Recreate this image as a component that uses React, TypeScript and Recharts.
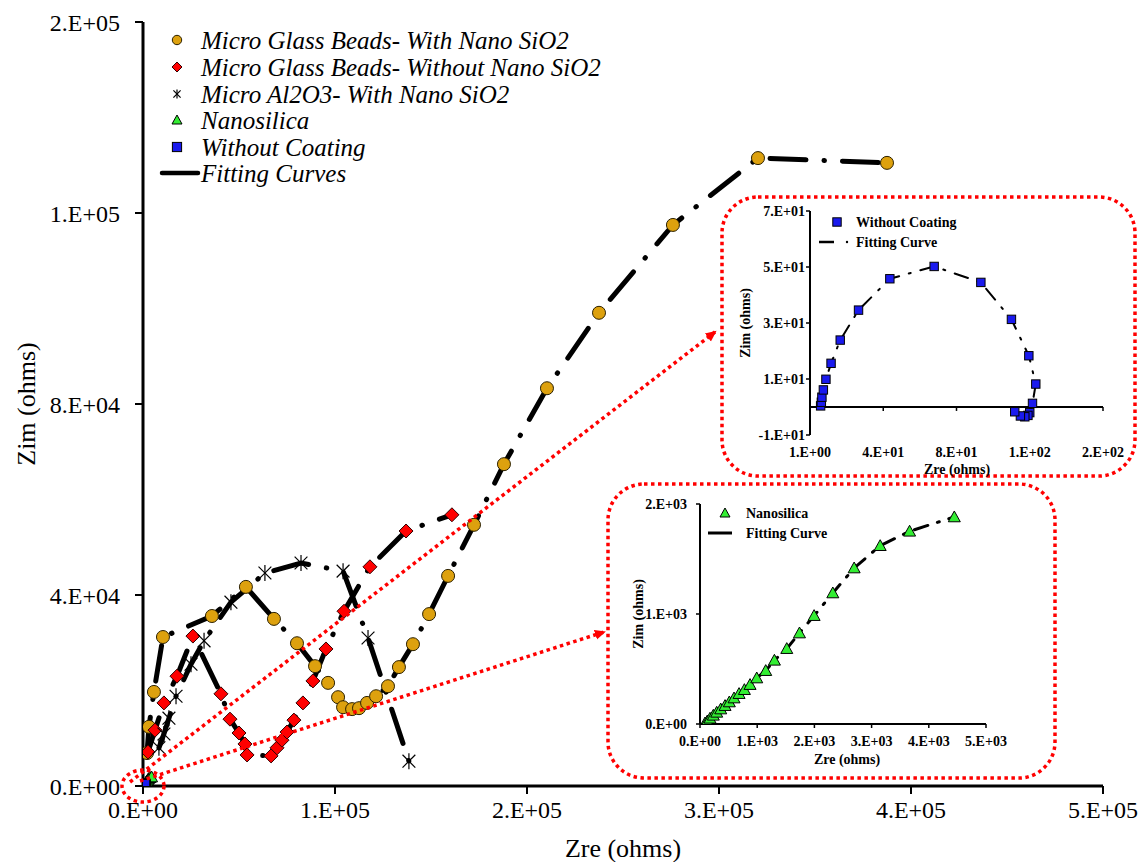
import React from 'react';
import { ScatterChart, Scatter, XAxis, YAxis, ReferenceLine, Label } from 'recharts';

const SERIF = '"Liberation Serif", "Times New Roman", Times, serif';

// main Nyquist plot, ohms
const beadsNanoZre = [2100, 3100, 5700, 10400, 35900, 53600, 68200, 80200, 89600, 96400, 101600, 104200, 108900, 112500, 116700, 121400, 127600, 133300, 140600, 149000, 158900, 172400, 188000, 210400, 237500, 276000, 320300, 387500];
const beadsNanoZim = [6900, 12400, 19700, 31200, 35600, 41700, 35000, 29900, 25100, 21600, 18600, 16500, 16100, 16300, 17400, 18800, 20900, 24900, 29700, 36000, 44000, 54700, 67400, 83300, 99100, 117500, 131500, 130500];

const beadsZre = [2600, 6250, 10900, 17700, 26000, 40600, 45300, 50000, 53100, 54200, 66700, 69800, 72400, 75000, 78600, 83300, 88500, 95300, 104700, 118200, 137000, 160900];
const beadsZim = [7100, 11700, 17400, 23000, 31400, 19300, 14000, 11100, 8800, 6500, 6300, 8000, 9600, 11300, 13800, 17400, 22000, 28700, 36600, 45900, 53400, 56800];

const aluminaZre = [8300, 10900, 13500, 17200, 25000, 31800, 45800, 63500, 82300, 104200, 117200, 138500];
const aluminaZim = [8000, 10900, 14200, 18800, 25500, 30400, 38500, 44600, 46700, 45000, 31000, 5200];

// nanosilica (also the lower inset)
const nanoZre = [88, 128, 175, 233, 292, 362, 438, 513, 595, 683, 776, 875, 992, 1149, 1301, 1517, 1739, 1995, 2322, 2695, 3150, 3664, 4446];
const nanoZim = [9, 27, 52, 79, 106, 136, 167, 200, 236, 276, 312, 358, 418, 485, 579, 685, 827, 985, 1191, 1418, 1621, 1752, 1882];

// without coating (also the upper inset)
const bareZre = [6.8, 7.2, 7.5, 8.3, 9.7, 12.5, 17.5, 27.5, 44.6, 68.8, 94.3, 111, 120.5, 124.3, 122.5, 121, 120, 118.3, 115.9, 112.8];
const bareZim = [0.4, 1.7, 3.5, 6.1, 9.9, 15.6, 23.9, 34.6, 45.8, 50.2, 44.5, 31.3, 18.3, 8.2, 1.3, -2, -3, -3.5, -3.2, -1.7];

const mainXTicks = [0, 100000, 200000, 300000, 400000, 500000];
const mainYTicks = [0, 40000, 80000, 120000, 160000];
const bareXTicks = [1, 41, 81, 121, 161];
const bareYTicks = [-10, 10, 30, 50, 70];
const nanoXTicks = [0, 1000, 2000, 3000, 4000, 5000];
const nanoYTicks = [0, 1000, 2000];

const legendNames = [
  'Micro Glass Beads- With Nano SiO2',
  'Micro Glass Beads- Without Nano SiO2',
  'Micro Al2O3- With Nano SiO2',
  'Nanosilica',
  'Without Coating',
  'Fitting Curves',
];

const pts = (xs: number[], ys: number[]) => xs.map((x, i) => ({ x, y: ys[i] }));

// excel style "0.E+00"
const sci = (v: number) => {
  if (v === 0) return '0.E+00';
  const sign = v < 0 ? '-' : '';
  const a = Math.abs(v);
  let e = Math.floor(Math.log10(a));
  let m = Math.round(a / Math.pow(10, e));
  if (m >= 10) { m = 1; e += 1; }
  return `${sign}${m}.E${e >= 0 ? '+' : '-'}${String(Math.abs(e)).padStart(2, '0')}`;
};

const GOLD = '#DDA10E';
const RED = '#FF0000';
const GREEN = '#33EE33';
const BLUE = '#1A1AEE';

const noDot = () => <g />;

const gold = (r: number) => (p: any) => <circle cx={p.cx} cy={p.cy} r={r} fill={GOLD} stroke="#2b2000" strokeWidth={1} />;
const diamond = (s: number) => (p: any) => (
  <polygon points={`${p.cx},${p.cy - s} ${p.cx + s},${p.cy} ${p.cx},${p.cy + s} ${p.cx - s},${p.cy}`} fill={RED} stroke="#300" strokeWidth={1} />
);
const star = (s: number) => (p: any) => {
  const d = s * 0.8;
  return (
    <g stroke="#000" strokeWidth={1.2}>
      <line x1={p.cx} y1={p.cy - s} x2={p.cx} y2={p.cy + s} />
      <line x1={p.cx - d} y1={p.cy - d} x2={p.cx + d} y2={p.cy + d} />
      <line x1={p.cx - d} y1={p.cy + d} x2={p.cx + d} y2={p.cy - d} />
    </g>
  );
};
const tri = (s: number) => (p: any) => (
  <polygon points={`${p.cx},${p.cy - s} ${p.cx + s},${p.cy + s * 0.8} ${p.cx - s},${p.cy + s * 0.8}`} fill={GREEN} stroke="#000" strokeWidth={1} />
);
const square = (s: number) => (p: any) => (
  <rect x={p.cx - s} y={p.cy - s} width={s * 2} height={s * 2} fill={BLUE} stroke="#000" strokeWidth={1} />
);

const mainFit = { stroke: '#000', strokeWidth: 5, strokeDasharray: '36 18 0.5 18', strokeLinecap: 'round' as const };
const bareFit = { stroke: '#000', strokeWidth: 2, strokeDasharray: '14 10 2 10', strokeLinecap: 'round' as const };
const nanoFit = { stroke: '#000', strokeWidth: 3, strokeDasharray: '14 10 2 10', strokeLinecap: 'round' as const };

const mainTick = { fill: '#000', fontSize: 24, fontFamily: SERIF };
const insetTick = { fill: '#000', fontSize: 14, fontWeight: 'bold' as const, fontFamily: SERIF };

const beadsNano = pts(beadsNanoZre, beadsNanoZim);
const beads = pts(beadsZre, beadsZim);
const alumina = pts(aluminaZre, aluminaZim);
const nano = pts(nanoZre, nanoZim);
const bare = pts(bareZre, bareZim);

const MainChart = () => (
  <ScatterChart width={1143} height={862} margin={{ top: 22, right: 40, bottom: 0, left: 0 }}>
    <XAxis type="number" dataKey="x" domain={[0, 500000]} ticks={mainXTicks} tickFormatter={sci} height={76}
      axisLine={{ stroke: '#000', strokeWidth: 3 }} tickLine={{ stroke: '#000', strokeWidth: 2 }} tickSize={8} tickMargin={7} tick={mainTick} allowDataOverflow>
      <Label content={() => <text x={623} y={857} textAnchor="middle" fontSize={26} fontFamily={SERIF} fill="#000">Zre (ohms)</text>} />
    </XAxis>
    <YAxis type="number" dataKey="y" domain={[0, 160000]} ticks={mainYTicks} tickFormatter={sci} width={143}
      axisLine={{ stroke: '#000', strokeWidth: 3 }} tickLine={{ stroke: '#000', strokeWidth: 2 }} tickSize={8} tickMargin={15} tick={mainTick} allowDataOverflow>
      <Label content={() => <text x={35} y={404} transform="rotate(-90 35 404)" textAnchor="middle" fontSize={26} fontFamily={SERIF} fill="#000">Zim (ohms)</text>} />
    </YAxis>
    <Scatter data={beadsNano} line={mainFit} lineType="joint" shape={noDot} isAnimationActive={false} />
    <Scatter data={beads} line={mainFit} lineType="joint" shape={noDot} isAnimationActive={false} />
    <Scatter data={alumina} line={mainFit} lineType="joint" shape={noDot} isAnimationActive={false} />
    <Scatter data={nano} line={mainFit} lineType="joint" shape={noDot} isAnimationActive={false} />
    <Scatter data={beadsNano} shape={gold(6.5)} isAnimationActive={false} />
    <Scatter data={beads} shape={diamond(7)} isAnimationActive={false} />
    <Scatter data={alumina} shape={star(8)} isAnimationActive={false} />
    <Scatter data={nano} shape={tri(6)} isAnimationActive={false} />
    <Scatter data={bare} shape={square(6.5)} isAnimationActive={false} />
  </ScatterChart>
);

const BareInset = () => (
  <ScatterChart width={400} height={285} margin={{ top: 11, right: 22, bottom: 0, left: 0 }}>
    <XAxis type="number" dataKey="x" domain={[1, 161]} ticks={bareXTicks} tickFormatter={sci} height={50}
      axisLine={false} tickLine={false} tickMargin={6} tick={insetTick} allowDataOverflow>
      <Label content={() => <text x={232} y={274} textAnchor="middle" fontSize={14} fontWeight="bold" fontFamily={SERIF} fill="#000">Zre (ohms)</text>} />
    </XAxis>
    <YAxis type="number" dataKey="y" domain={[-10, 70]} ticks={bareYTicks} tickFormatter={sci} width={85}
      axisLine={{ stroke: '#000', strokeWidth: 2 }} tickLine={{ stroke: '#000', strokeWidth: 1.5 }} tickSize={4} tickMargin={1} tick={insetTick} allowDataOverflow>
      <Label content={() => <text x={25} y={123} transform="rotate(-90 25 123)" textAnchor="middle" fontSize={14} fontWeight="bold" fontFamily={SERIF} fill="#000">Zim (ohms)</text>} />
    </YAxis>
    <ReferenceLine y={0} stroke="#000" strokeWidth={2} />
    {bareXTicks.slice(1).map((t) => (
      <ReferenceLine key={t} segment={[{ x: t, y: 0 }, { x: t, y: -1.4 }]} stroke="#000" strokeWidth={1.5} />
    ))}
    <Scatter data={bare} line={bareFit} lineType="joint" shape={noDot} isAnimationActive={false} />
    <Scatter data={bare} shape={square(4.2)} isAnimationActive={false} />
  </ScatterChart>
);

const NanoInset = () => (
  <ScatterChart width={400} height={285} margin={{ top: 14, right: 24, bottom: 0, left: 0 }}>
    <XAxis type="number" dataKey="x" domain={[0, 5000]} ticks={nanoXTicks} tickFormatter={sci} height={51}
      axisLine={{ stroke: '#000', strokeWidth: 2 }} tickLine={{ stroke: '#000', strokeWidth: 1.5 }} tickSize={4} tickMargin={8} tick={insetTick} allowDataOverflow>
      <Label content={() => <text x={237} y={274} textAnchor="middle" fontSize={14} fontWeight="bold" fontFamily={SERIF} fill="#000">Zre (ohms)</text>} />
    </XAxis>
    <YAxis type="number" dataKey="y" domain={[0, 2000]} ticks={nanoYTicks} tickFormatter={sci} width={90}
      axisLine={{ stroke: '#000', strokeWidth: 2 }} tickLine={{ stroke: '#000', strokeWidth: 1.5 }} tickSize={4} tickMargin={9} tick={insetTick} allowDataOverflow>
      <Label content={() => <text x={33} y={124} transform="rotate(-90 33 124)" textAnchor="middle" fontSize={14} fontWeight="bold" fontFamily={SERIF} fill="#000">Zim (ohms)</text>} />
    </YAxis>
    <Scatter data={nano} line={nanoFit} lineType="joint" shape={noDot} isAnimationActive={false} />
    <Scatter data={nano} shape={tri(6)} isAnimationActive={false} />
  </ScatterChart>
);

const dotted = { stroke: RED, strokeWidth: 3.5, strokeDasharray: '3.5 3.5', fill: 'none' };
const legendRows = [40, 67, 94, 120, 147, 173];

const Decor = () => (
  <svg width={1143} height={862} style={{ position: 'absolute', left: 0, top: 0, pointerEvents: 'none' }}>
    <defs>
      <marker id="redHead" markerWidth={12} markerHeight={12} refX={9} refY={6} orient="auto" markerUnits="userSpaceOnUse">
        <path d="M0,1 L11,6 L0,11 z" fill={RED} />
      </marker>
    </defs>
    {/* inset frames */}
    <rect x={722} y={197} width={413} height={279} rx={36} ry={36} {...dotted} style={{ fill: '#fff' }} />
    <rect x={608} y={484} width={447} height={294} rx={36} ry={36} {...dotted} style={{ fill: '#fff' }} />
    {/* zoom markers */}
    <ellipse cx={143} cy={786} rx={21} ry={16} {...dotted} />
    <line x1={130} y1={782} x2={715} y2={332} {...dotted} markerEnd="url(#redHead)" />
    <line x1={140} y1={781} x2={604} y2={632} {...dotted} markerEnd="url(#redHead)" />

    {/* main legend */}
    <g fontFamily={SERIF} fontStyle="italic" fontSize={25} fill="#000">
      {legendNames.map((n, i) => (
        <text key={n} x={201} y={legendRows[i] + 8.5}>{n}</text>
      ))}
    </g>
    {gold(4.7)({ cx: 177, cy: legendRows[0] })}
    {diamond(5)({ cx: 177, cy: legendRows[1] })}
    {star(4.5)({ cx: 177, cy: legendRows[2] })}
    {tri(5)({ cx: 177, cy: legendRows[3] })}
    {square(4.6)({ cx: 177, cy: legendRows[4] })}
    <line x1={162} y1={legendRows[5]} x2={198} y2={legendRows[5]} stroke="#000" strokeWidth={4.5} strokeLinecap="round" />

    {/* inset legends */}
    <g fontFamily={SERIF} fontWeight="bold" fontSize={14} fill="#000">
      <text x={856} y={227}>{legendNames[4]}</text>
      <text x={856} y={247}>Fitting Curve</text>
      <text x={746} y={518}>{legendNames[3]}</text>
      <text x={746} y={538}>Fitting Curve</text>
    </g>
    {square(4.2)({ cx: 837, cy: 222 })}
    <line x1={819} y1={242} x2={834} y2={242} stroke="#000" strokeWidth={2.5} />
    <circle cx={847} cy={242} r={1.2} fill="#000" />
    {tri(5)({ cx: 725, cy: 513 })}
    <line x1={708} y1={533} x2={732} y2={533} stroke="#000" strokeWidth={3} />
  </svg>
);

export default function App() {
  return (
    <div style={{ position: 'absolute', left: 0, top: 0, width: 1143, height: 862, background: '#fff', fontFamily: SERIF }}>
      <div style={{ position: 'absolute', left: 0, top: 0 }}>
        <MainChart />
      </div>
      <Decor />
      <div style={{ position: 'absolute', left: 725, top: 200 }}>
        <BareInset />
      </div>
      <div style={{ position: 'absolute', left: 610, top: 490 }}>
        <NanoInset />
      </div>
    </div>
  );
}
